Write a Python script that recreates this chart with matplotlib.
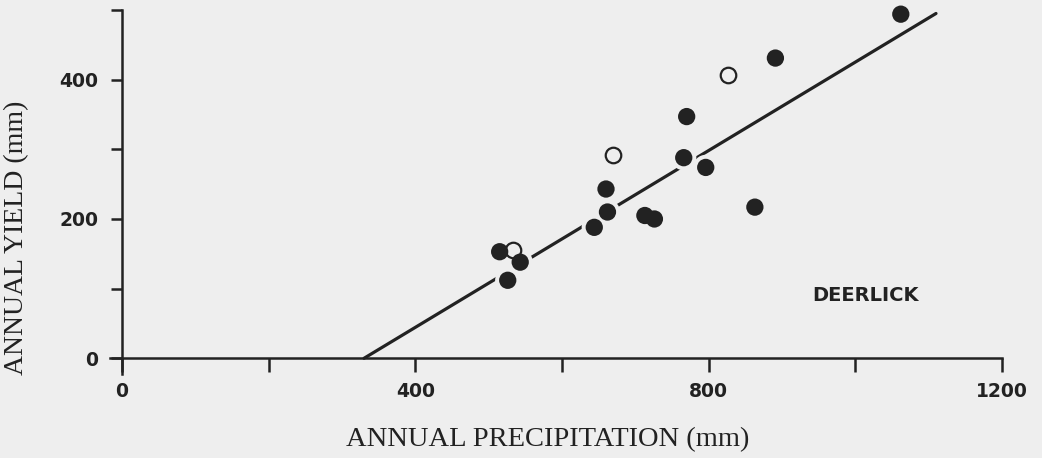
import matplotlib.pyplot as plt

# Annual precipitation vs annual yield, Deerlick
precip_filled = [515, 526, 543, 644, 662, 660, 713, 726, 766, 770, 796, 863, 891, 1062]
yield_filled = [153, 112, 138, 188, 210, 243, 205, 200, 288, 347, 274, 217, 431, 494]
precip_open = [533, 670, 826]
yield_open = [156, 292, 407]

# fitted line end points
fit_precip = [330, 1110]
fit_yield = [0, 495]

x_ticks = [0, 200, 400, 600, 800, 1000, 1200]
x_labels = ["0", "", "400", "", "800", "", "1200"]
y_ticks = [0, 100, 200, 300, 400, 500]
y_labels = ["0", "", "200", "", "400", ""]

bg = "#eeeeee"
ink = "#222222"

W, H = 1042, 458
fig = plt.figure(figsize=(W / 100, H / 100), dpi=100, facecolor=bg)

# axes placed so that x=0 -> px 122, x=1200 -> px 1002, y=0 -> px 358, y=500 -> px 10
xmin, xmax = -17, 1240
ymin, ymax = -22, 510
px_x = (1002 - 122) / 1200
px_y = (358.3 - 10) / 500
left = 122 + xmin * px_x
right = 122 + xmax * px_x
bottom = 358.3 - ymin * px_y
top = 358.3 - ymax * px_y
ax = fig.add_axes([left / W, 1 - bottom / H, (right - left) / W, (bottom - top) / H])
ax.set_facecolor(bg)
ax.set_xlim(xmin, xmax)
ax.set_ylim(ymin, ymax)

ax.plot(fit_precip, fit_yield, color=ink, lw=2.3, solid_capstyle="round", zorder=2)

# background halos so the line breaks around each point
ax.scatter(precip_filled + precip_open, yield_filled + yield_open, s=330,
           color=bg, edgecolors="none", zorder=3)
ax.scatter(precip_open, yield_open, s=125, facecolors=bg, edgecolors=ink,
           linewidths=1.6, zorder=4)
ax.scatter(precip_filled, yield_filled, s=155, color=ink, edgecolors="none", zorder=5)

for side in ["top", "right"]:
    ax.spines[side].set_visible(False)
ax.spines["bottom"].set_position(("data", 0))
ax.spines["left"].set_position(("data", 0))
ax.spines["bottom"].set_bounds(xmin, 1200)
ax.spines["left"].set_bounds(ymin, 500)
for side in ["bottom", "left"]:
    ax.spines[side].set_linewidth(1.8)
    ax.spines[side].set_color(ink)

ax.set_xticks(x_ticks)
ax.set_xticklabels(x_labels)
ax.set_yticks(y_ticks)
ax.set_yticklabels(y_labels)
ax.tick_params(axis="x", direction="out", length=10, width=1.8, color=ink, pad=7,
               labelsize=13.5, labelcolor=ink)
ax.tick_params(axis="y", direction="out", length=8, width=1.8, color=ink, pad=9,
               labelsize=13.5, labelcolor=ink)
for lab in ax.get_xticklabels() + ax.get_yticklabels():
    lab.set_fontweight("bold")

ax.text(941, 90, "DEERLICK", fontsize=14, fontweight="bold", color=ink,
        va="center", ha="left")

fig.text(548 / W, 1 - 440 / H, "ANNUAL PRECIPITATION (mm)", family="Liberation Serif",
         fontsize=20.5, color=ink, ha="center", va="center")
fig.text(17 / W, 1 - 238 / H, "ANNUAL YIELD (mm)", family="Liberation Serif",
         fontsize=20, color=ink, ha="center", va="center", rotation=90)

fig.savefig("out.png", dpi=100, facecolor=bg)
